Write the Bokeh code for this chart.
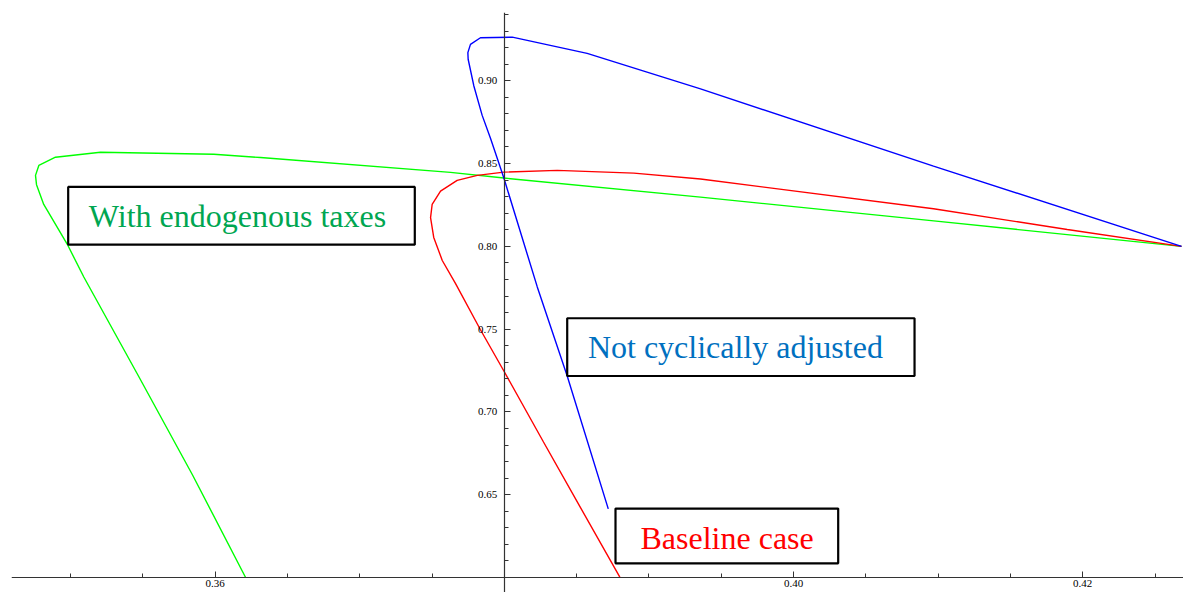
from bokeh.plotting import figure
from bokeh.models import Range1d, FixedTicker, PrintfTickFormatter
from bokeh.core.properties import value
from bokeh.embed import file_html
from bokeh.resources import INLINE

# ---- data (x, y) ----
baseline_x = [0.42683, 0.41893, 0.40968, 0.39357, 0.38896, 0.38366, 0.37997, 0.37813,
              0.37674, 0.37559, 0.37501, 0.37490, 0.37512, 0.37571, 0.37663, 0.37835,
              0.37997, 0.38271, 0.38527, 0.38799]
baseline_y = [0.80000, 0.81016, 0.82271, 0.84065, 0.84423, 0.84585, 0.84483, 0.84286,
              0.83987, 0.83329, 0.82528, 0.81733, 0.80538, 0.79145, 0.77747, 0.74961,
              0.72469, 0.68183, 0.64220, 0.60018]

notcyc_x = [0.42683, 0.40968, 0.39357, 0.38573, 0.38055, 0.37835, 0.37766,
            0.37748, 0.37750, 0.37789, 0.37847, 0.37905, 0.37997, 0.38228, 0.38435,
            0.38719]
notcyc_y = [0.80000, 0.84842, 0.89504, 0.91656, 0.92630, 0.92594, 0.92194,
            0.91698, 0.91297, 0.89701, 0.87908, 0.86515, 0.84124, 0.77549, 0.72170,
            0.64142]

endog_x = [0.42683, 0.40970, 0.39357, 0.37997, 0.37628, 0.36314, 0.35991, 0.35207,
           0.34896, 0.34781, 0.34758, 0.34765, 0.34815, 0.34977, 0.35092, 0.35470,
           0.35844, 0.36210]
endog_y = [0.80000, 0.81536, 0.82971, 0.84124, 0.84465, 0.85362, 0.85559, 0.85678,
           0.85380, 0.84883, 0.84286, 0.83724, 0.82528, 0.80137, 0.78147, 0.72170,
           0.66192, 0.60018]

x_major = [0.36, 0.40, 0.42]
x_minor = [0.35, 0.355, 0.365, 0.37, 0.375, 0.38, 0.385, 0.39, 0.395, 0.405, 0.41,
           0.415, 0.425]
y_major = [0.65, 0.70, 0.75, 0.80, 0.85, 0.90]
y_minor = [0.60, 0.61, 0.62, 0.63, 0.64, 0.66, 0.67, 0.68, 0.69, 0.71, 0.72,
           0.73, 0.74, 0.76, 0.77, 0.78, 0.79, 0.81, 0.82, 0.83, 0.84, 0.86, 0.87,
           0.88, 0.89, 0.91, 0.92, 0.93, 0.94]

label_texts = ["With endogenous taxes", "Not cyclically adjusted", "Baseline case"]
label_colors = ["#00a651", "#0070c0", "#ff0000"]
# annotation placement (data coords): text anchor and box extents
label_x = [0.35127, 0.38578, 0.38942]
label_y = [0.81837, 0.73905, 0.62411]
box_left = [0.34984, 0.38435, 0.38769]
box_right = [0.37381, 0.40837, 0.40309]
box_top = [0.83586, 0.75655, 0.64160]
box_bottom = [0.80102, 0.72170, 0.60855]

p = figure(width=1183, height=592,
           x_range=Range1d(0.34592, 0.42697), y_range=Range1d(0.59094, 0.94121),
           output_backend="svg", toolbar_location=None,
           min_border_left=11, min_border_right=0, min_border_top=12, min_border_bottom=0)
p.outline_line_color = None
p.xgrid.visible = False
p.ygrid.visible = False
p.background_fill_color = "white"
p.border_fill_color = "white"

p.xaxis.fixed_location = 0.60
p.yaxis.fixed_location = 0.38
p.xaxis.ticker = FixedTicker(ticks=x_major, minor_ticks=x_minor)
p.yaxis.ticker = FixedTicker(ticks=y_major, minor_ticks=y_minor)
p.xaxis.formatter = PrintfTickFormatter(format="%.2f")
p.yaxis.formatter = PrintfTickFormatter(format="%.2f")
for ax in (p.xaxis, p.yaxis):
    ax.axis_line_color = "#333333"
    ax.axis_line_width = 1.2
    ax.major_tick_line_color = "#333333"
    ax.minor_tick_line_color = "#333333"
    ax.major_tick_in = 6
    ax.major_tick_out = 0
    ax.minor_tick_in = 4
    ax.minor_tick_out = 0
    ax.major_label_text_font = "Liberation Serif"
    ax.major_label_text_font_size = "11px"
    ax.major_label_text_color = "black"
p.xaxis.major_label_standoff = 3
p.yaxis.major_label_standoff = 7

p.line(endog_x, endog_y, line_color="#00ff00", line_width=1.4)
p.line(baseline_x, baseline_y, line_color="#ff0000", line_width=1.4)
p.line(notcyc_x, notcyc_y, line_color="#0000ff", line_width=1.4)

p.quad(left=box_left, right=box_right, top=box_top, bottom=box_bottom,
       fill_color="white", line_color="black", line_width=2.2)
p.text(x=label_x, y=label_y, text=label_texts, text_color=label_colors,
       text_font=value("Liberation Serif"), text_font_size="32px",
       text_baseline="alphabetic", text_align="left")

open("out.html", "w").write(file_html(p, INLINE))
